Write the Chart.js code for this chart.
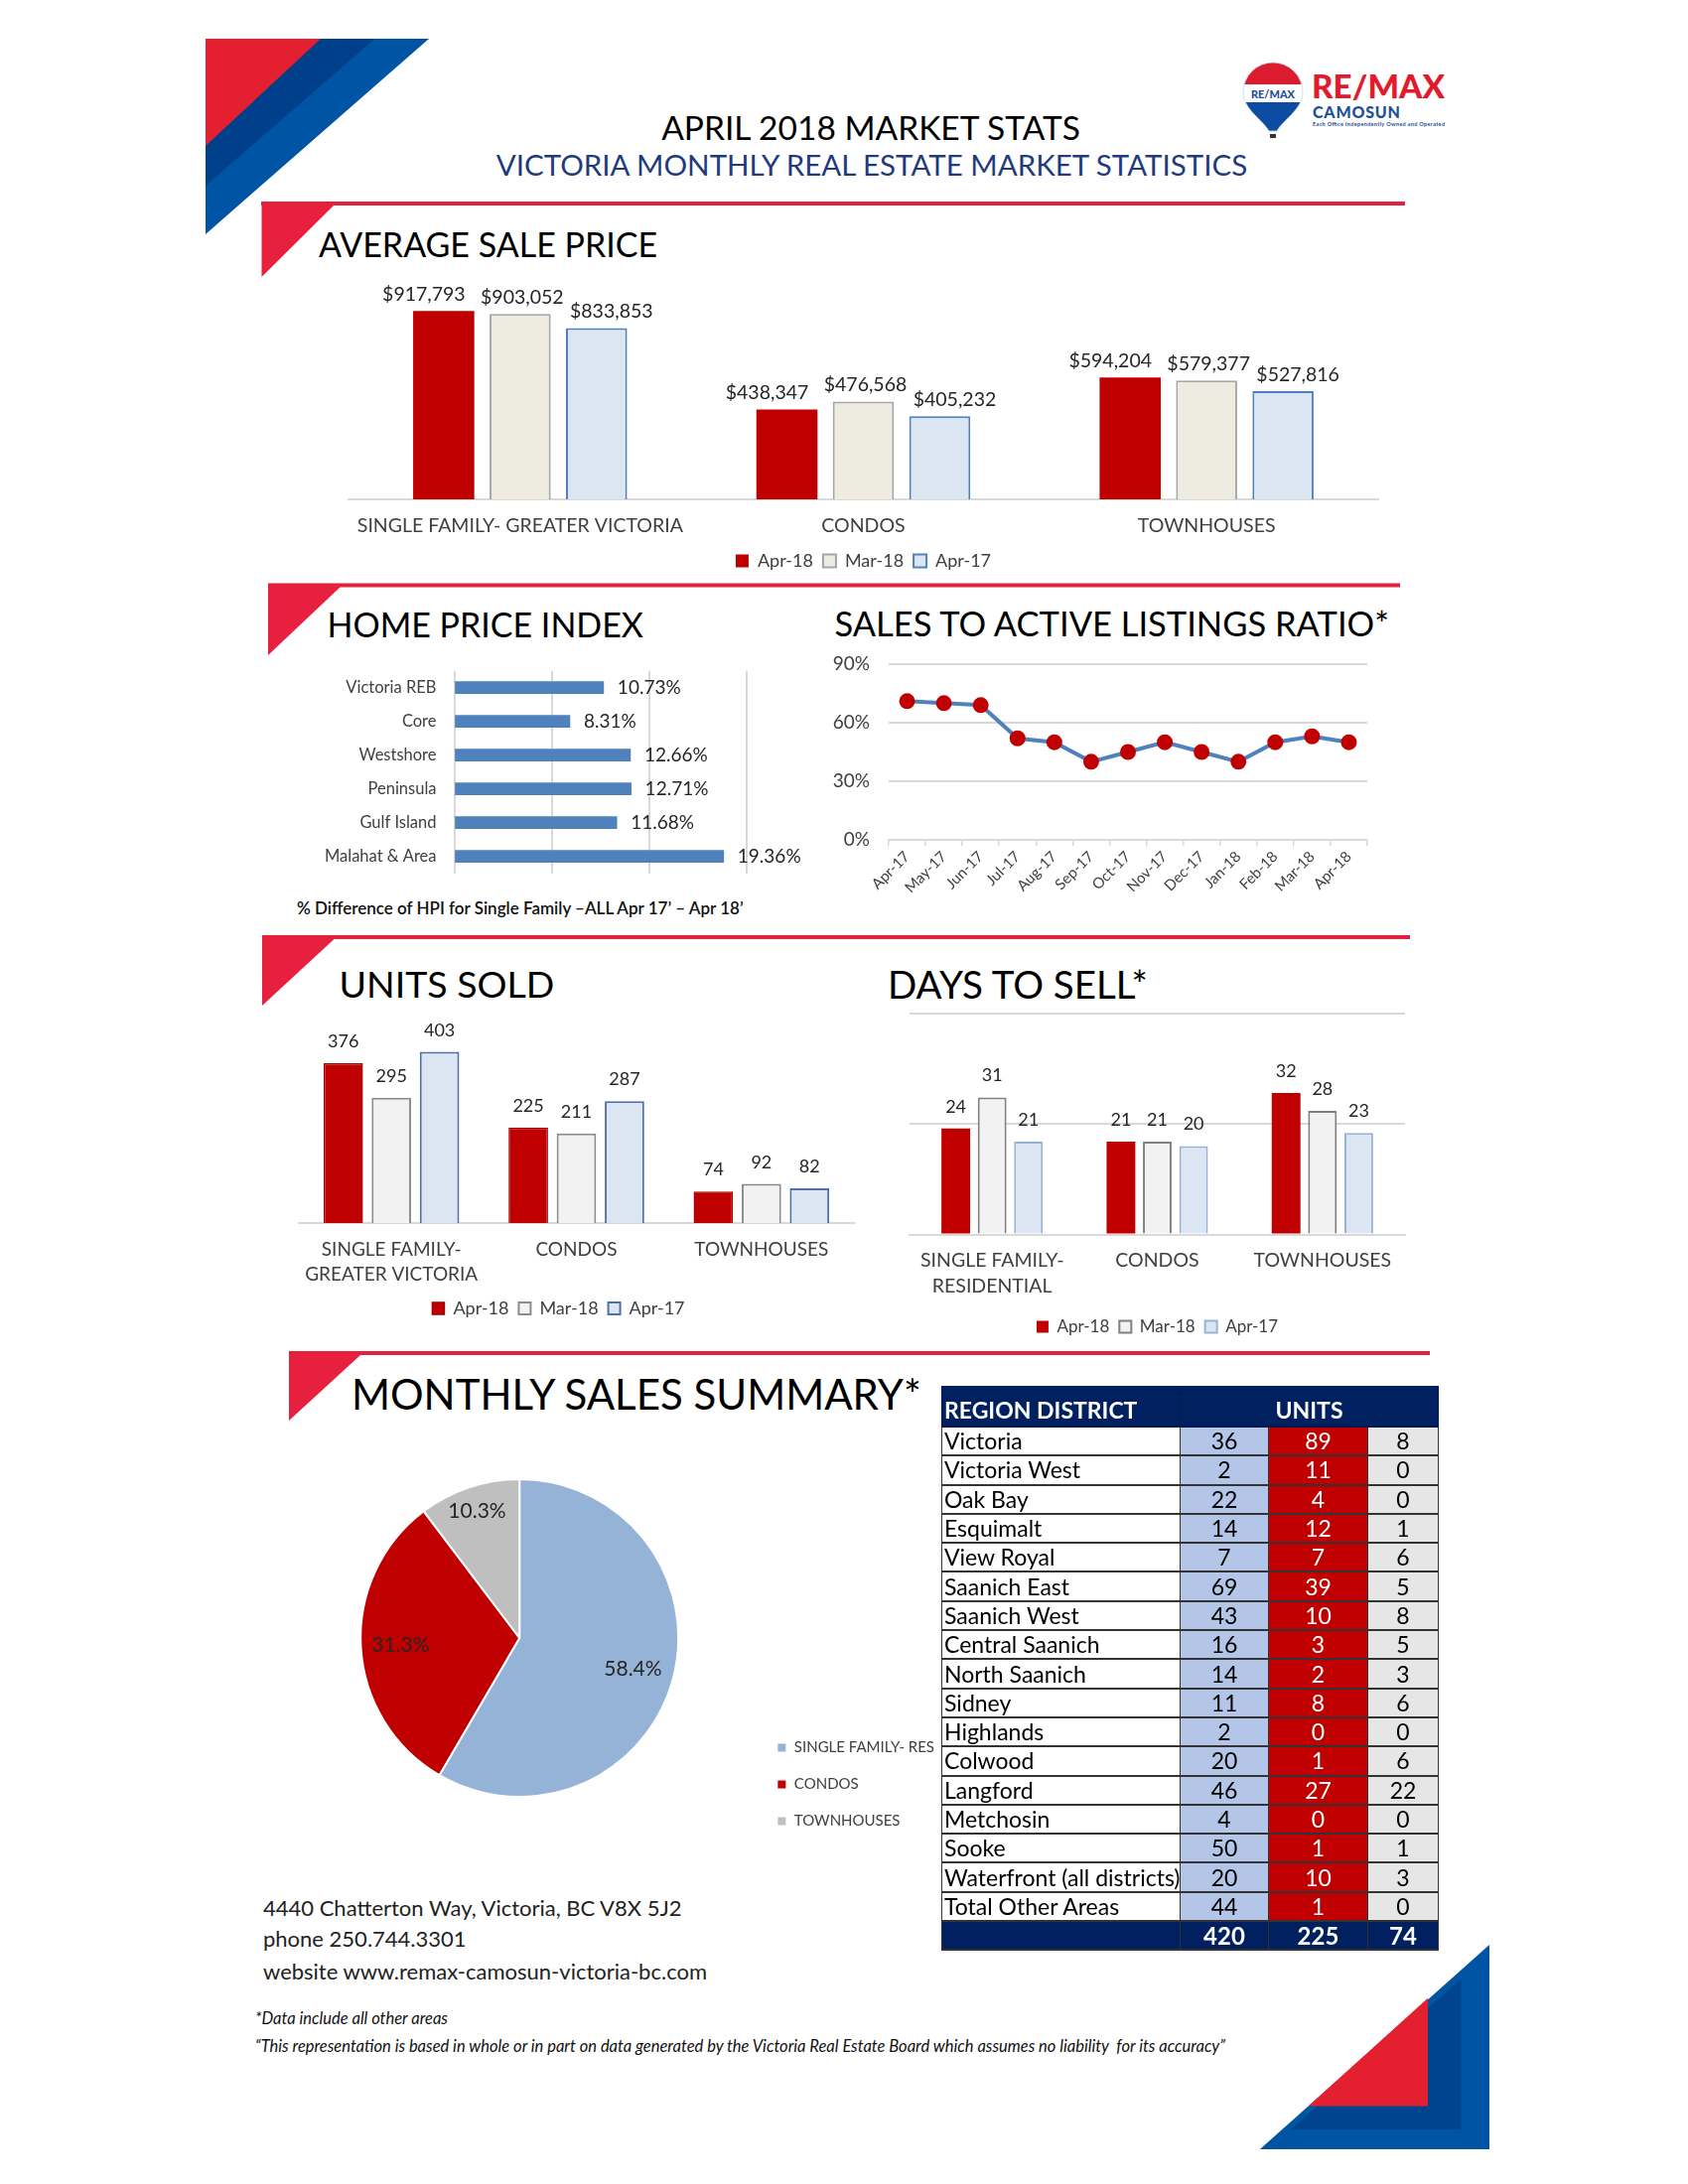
<!DOCTYPE html>
<html>
<head>
<meta charset="utf-8">
<script src="https://cdn.jsdelivr.net/npm/chart.js@4.4.0/dist/chart.umd.min.js"></script>
<style>
  body { margin: 0; background: #fff; }
  #page { position: relative; width: 1700px; height: 2200px; overflow: hidden; font-family: Lato, "Noto Sans", sans-serif; }
  .t { position: absolute; line-height: 1; white-space: nowrap; color: #000; }
  .c { transform: translateX(-50%); }
  canvas { position: absolute; }
  #salesTable { position: absolute; left: 948px; top: 1396px; width: 500px; border-collapse: collapse; table-layout: fixed; font-size: 23px; z-index: 2; }
  #salesTable td, #salesTable th { padding: 0 2px; height: 27.3px; border-bottom: 2px solid #333; border-left: 1px solid #333; border-right: 1px solid #333; line-height: 1; white-space: nowrap; overflow: visible; }
  #salesTable th { background: #002060; color: #fff; font-weight: 700; height: 36px; vertical-align: bottom; padding-bottom: 4px; border-color: #001a4d; }
  #salesTable td.n { text-align: left; background: #fff; }
  #salesTable td.a { text-align: center; background: #B4C6E7; }
  #salesTable td.b { text-align: center; background: #C00000; color: #fff; }
  #salesTable td.g { text-align: center; background: #E7E6E6; }
  #salesTable tr.tot td { background: #002060; color: #fff; font-weight: 700; font-size: 24px; }
</style>
</head>
<body>
<div id="page">
  <svg width="1700" height="2200" style="position:absolute;left:0;top:0">
    <polygon points="207,39 432,39 207,236" fill="#0054A4"/>
    <polygon points="207,39 377.5,39 207,187" fill="#003F8A"/>
    <polygon points="207,39 323,39 207,147" fill="#E31F30"/>

    <rect x="263" y="203" width="1152" height="4" fill="#E3213A"/>
    <polygon points="263.5,207 336,207 263.5,279" fill="#E8203F"/>
    <rect x="270" y="587.5" width="1140" height="4" fill="#E3213A"/>
    <polygon points="270,591 343,591 270,660" fill="#E8203F"/>
    <rect x="264" y="942" width="1156" height="4" fill="#E3213A"/>
    <polygon points="264,946 336.5,946 264,1013" fill="#E8203F"/>
    <rect x="291" y="1361" width="1149" height="4" fill="#E3213A"/>
    <polygon points="291,1365 363,1365 291,1431" fill="#E8203F"/>

    <polygon points="1500,1959 1269,2165 1500,2165" fill="#0054A4"/>
    <polygon points="1471.4,1993.4 1299.7,2145.3 1471.4,2145.3" fill="#00448E"/>
    <polygon points="1438,2012.8 1317.8,2121.4 1438,2121.4" fill="#E31F30"/>

    <defs>
      <clipPath id="balloon">
        <path d="M1252,93 A30,30 0 0 1 1312,93 C1312,110 1292,121 1286,132 L1278,132 C1272,121 1252,110 1252,93 Z"/>
      </clipPath>
    </defs>
    <g clip-path="url(#balloon)">
      <rect x="1250" y="60" width="64" height="25" fill="#DC1C2E"/>
      <rect x="1250" y="85" width="64" height="18" fill="#ffffff"/>
      <rect x="1250" y="103" width="64" height="34" fill="#0C4DA2"/>
    </g>
    <path d="M1252,93 A30,30 0 0 1 1312,93 C1312,110 1292,121 1286,132 L1278,132 C1272,121 1252,110 1252,93 Z" fill="none" stroke="#c9d3e6" stroke-width="0.8"/>
    <text x="1282" y="99" text-anchor="middle" font-family="Lato" font-weight="900" font-size="12" fill="#1F4E9C" textLength="44" lengthAdjust="spacingAndGlyphs">RE/MAX</text>
    <rect x="1279" y="135" width="6" height="4" fill="#333"/>
    <text x="1321" y="98.5" font-family="Lato" font-weight="900" font-size="32" fill="#E11B2C" textLength="134" lengthAdjust="spacingAndGlyphs">RE/MAX</text>
    <text x="1322" y="118.5" font-family="Lato" font-weight="900" font-size="16" fill="#1B4F9C" textLength="88">CAMOSUN</text>
    <text x="1322" y="127" font-family="Lato" font-weight="700" font-size="5.5" fill="#1B4F9C" textLength="133">Each Office Independently Owned and Operated</text>
  </svg>

  <div class="t c" style="left:877px;top:112.2px;font-size:33.5px;">APRIL 2018 MARKET STATS</div>
  <div class="t c" style="left:878px;top:151.1px;font-size:29.5px;color:#1F3B7D;">VICTORIA MONTHLY REAL ESTATE MARKET STATISTICS</div>

  <div class="t" style="left:321px;top:228.5px;font-size:34px;">AVERAGE SALE PRICE</div>
  <div class="t" style="left:329.5px;top:611.9px;font-size:34px;">HOME PRICE INDEX</div>
  <div class="t" style="left:840.5px;top:611.2px;font-size:34.5px;">SALES TO ACTIVE LISTINGS RATIO*</div>
  <div class="t" style="left:341.5px;top:971.8px;font-size:37.5px;">UNITS SOLD</div>
  <div class="t" style="left:894px;top:972.4px;font-size:38.5px;">DAYS TO SELL*</div>
  <div class="t" style="left:354px;top:1383px;font-size:42px;">MONTHLY SALES SUMMARY*</div>

  <div class="t" style="left:299px;top:906px;font-size:17px;font-weight:600;color:#111;">% Difference of HPI for Single Family –ALL Apr 17’ – Apr 18’</div>

  <canvas id="priceChart" width="1080" height="334" style="left:330px;top:250px;"></canvas>
  <canvas id="hpiChart" width="560" height="240" style="left:270px;top:660px;"></canvas>
  <canvas id="ratioChart" width="580" height="290" style="left:820px;top:640px;"></canvas>
  <canvas id="unitsChart" width="600" height="337" style="left:280px;top:1000px;"></canvas>
  <canvas id="daysChart" width="520" height="355" style="left:900px;top:1000px;"></canvas>
  <canvas id="pieChart" width="680" height="428" style="left:286px;top:1436px;"></canvas>

  <table id="salesTable">
    <colgroup><col style="width:240px"><col style="width:89px"><col style="width:100px"><col style="width:71px"></colgroup>
    <thead><tr><th style="text-align:left;">REGION DISTRICT</th><th colspan="3" style="text-align:center;">UNITS</th></tr></thead>
    <tbody id="tableBody"></tbody>
  </table>

  <div class="t" style="left:265px;top:1911px;font-size:22px;color:#222;">4440 Chatterton Way, Victoria, BC V8X 5J2</div>
  <div class="t" style="left:265px;top:1942px;font-size:22px;color:#222;">phone 250.744.3301</div>
  <div class="t" style="left:265px;top:1975px;font-size:22px;color:#222;">website www.remax-camosun-victoria-bc.com</div>

  <div class="t" style="left:257px;top:2025.3px;font-size:16.5px;font-style:italic;color:#111;">*Data include all other areas</div>
  <div class="t" style="left:257px;top:2053px;font-size:16.5px;font-style:italic;color:#111;">“This representation is based in whole or in part on data generated by the Victoria Real Estate Board which assumes no liability&nbsp; for its accuracy”</div>
</div>

<script>
// ---- data ----
const seriesNames = ['Apr-18', 'Mar-18', 'Apr-17'];

const priceCategories = ['SINGLE FAMILY- GREATER VICTORIA', 'CONDOS', 'TOWNHOUSES'];
const priceApr18 = [917793, 438347, 594204];
const priceMar18 = [903052, 476568, 579377];
const priceApr17 = [833853, 405232, 527816];

const hpiRegions = ['Victoria REB', 'Core', 'Westshore', 'Peninsula', 'Gulf Island', 'Malahat & Area'];
const hpiChange = [10.73, 8.31, 12.66, 12.71, 11.68, 19.36];

const ratioMonths = ['Apr-17', 'May-17', 'Jun-17', 'Jul-17', 'Aug-17', 'Sep-17', 'Oct-17', 'Nov-17', 'Dec-17', 'Jan-18', 'Feb-18', 'Mar-18', 'Apr-18'];
const ratioValues = [71, 70, 69, 52, 50, 40, 45, 50, 45, 40, 50, 53, 50];
const ratioTicks = [0, 30, 60, 90];

const unitsCategories = [['SINGLE FAMILY-', 'GREATER VICTORIA'], 'CONDOS', 'TOWNHOUSES'];
const unitsApr18 = [376, 225, 74];
const unitsMar18 = [295, 211, 92];
const unitsApr17 = [403, 287, 82];

const daysCategories = [['SINGLE FAMILY-', 'RESIDENTIAL'], 'CONDOS', 'TOWNHOUSES'];
const daysApr18 = [24, 21, 32];
const daysMar18 = [31, 21, 28];
const daysApr17 = [21, 20, 23];

const pieLabels = ['SINGLE FAMILY- RES', 'CONDOS', 'TOWNHOUSES'];

const districts = ['Victoria', 'Victoria West', 'Oak Bay', 'Esquimalt', 'View Royal', 'Saanich East', 'Saanich West',
  'Central Saanich', 'North Saanich', 'Sidney', 'Highlands', 'Colwood', 'Langford', 'Metchosin', 'Sooke',
  'Waterfront (all districts)', 'Total Other Areas'];
const districtSingle = [36, 2, 22, 14, 7, 69, 43, 16, 14, 11, 2, 20, 46, 4, 50, 20, 44];
const districtCondo = [89, 11, 4, 12, 7, 39, 10, 3, 2, 8, 0, 1, 27, 0, 1, 10, 1];
const districtTown = [8, 0, 0, 1, 6, 5, 8, 5, 3, 6, 0, 6, 22, 0, 1, 3, 0];

// ---- helpers ----
Chart.defaults.font.family = 'Lato, "Noto Sans", sans-serif';
Chart.defaults.color = '#404040';
Chart.defaults.animation = false;
Chart.defaults.plugins.tooltip.enabled = false;

function sum(arr) {
    return arr.reduce(function(a, b) { return a + b; }, 0);
}

// draws the number above (or beside) every bar; nudge moves each series sideways a bit like the original
function barLabels(format, offset, size, horizontal, nudge) {
    return {
        id: 'barLabels',
        afterDatasetsDraw(chart) {
            const ctx = chart.ctx;
            ctx.save();
            ctx.font = size + 'px ' + Chart.defaults.font.family;
            ctx.fillStyle = '#262626';
            ctx.textBaseline = 'middle';
            chart.data.datasets.forEach(function(ds, i) {
                const dx = nudge ? nudge[i] : 0;
                chart.getDatasetMeta(i).data.forEach(function(bar, j) {
                    const text = format(ds.data[j]);
                    if (horizontal) {
                        ctx.textAlign = 'left';
                        ctx.fillText(text, bar.x + offset, bar.y);
                    } else {
                        ctx.textAlign = 'center';
                        ctx.fillText(text, bar.x + dx, bar.y - offset);
                    }
                });
            });
            ctx.restore();
        }
    };
}

// move a bottom legend sideways without touching the plot area
function shiftLegend(dx) {
    return {
        id: 'shiftLegend',
        afterLayout(chart) {
            chart.legend.left += dx;
            chart.legend.right += dx;
        }
    };
}

function noScalePadding(scale) {
    scale.paddingTop = 0;
    scale.paddingBottom = 0;
}

function money(v) {
    return '$' + v.toLocaleString('en-US');
}

function legendOpts(size, box) {
    return {
        position: 'bottom',
        labels: { font: { size: size }, color: '#404040', boxWidth: box, boxHeight: box, padding: 10 }
    };
}

// ---- average sale price ----
new Chart(document.getElementById('priceChart'), {
    type: 'bar',
    data: {
        labels: priceCategories,
        datasets: [
            { label: seriesNames[0], data: priceApr18, backgroundColor: '#C00000', borderWidth: 0 },
            { label: seriesNames[1], data: priceMar18, backgroundColor: '#EEECE1', borderColor: '#A6A6A6', borderWidth: 2 },
            { label: seriesNames[2], data: priceApr17, backgroundColor: '#DCE6F2', borderColor: '#4F81BD', borderWidth: 2 }
        ]
    },
    options: {
        responsive: false,
        categoryPercentage: 0.668,
        barPercentage: 0.8,
        layout: { padding: { top: 25.6, left: 21, right: 22, bottom: 0 } },
        plugins: { legend: legendOpts(18, 13) },
        scales: {
            x: {
                grid: { display: false },
                border: { color: '#D9D9D9', width: 2 },
                ticks: { font: { size: 19.5 }, color: '#404040', padding: 7 },
                afterFit: function(scale) { scale.height = 43; }
            },
            y: { display: false, min: 0, max: 1100000 }
        }
    },
    plugins: [barLabels(money, 16.6, 19.5, false, [-20, 2, 15])]
});

// ---- home price index ----
new Chart(document.getElementById('hpiChart'), {
    type: 'bar',
    data: {
        labels: hpiRegions,
        datasets: [{ data: hpiChange, backgroundColor: '#4F81BD', barThickness: 12 }]
    },
    options: {
        responsive: false,
        indexAxis: 'y',
        layout: { padding: { top: 15.7, bottom: 20.3, left: 0, right: 78.2 } },
        plugins: { legend: { display: false } },
        scales: {
            x: {
                min: 0, max: 21,
                ticks: { display: false, stepSize: 7 },
                grid: { color: '#D9D9D9', lineWidth: 2, drawTicks: false },
                border: { display: false },
                afterFit: function(scale) { scale.height = 0; }
            },
            y: {
                grid: { display: false, drawTicks: false },
                border: { display: false },
                ticks: { font: { size: 16.5 }, color: '#404040', padding: 18 },
                afterFit: function(scale) { scale.width = 187.5; noScalePadding(scale); }
            }
        }
    },
    plugins: [barLabels(function(v) { return v.toFixed(2) + '%'; }, 14, 19, true)]
});

// ---- sales to active listings ratio ----
new Chart(document.getElementById('ratioChart'), {
    type: 'line',
    data: {
        labels: ratioMonths,
        datasets: [{
            data: ratioValues,
            borderColor: '#4F81BD',
            borderWidth: 4,
            pointBackgroundColor: '#C00000',
            pointBorderColor: '#C00000',
            pointRadius: 6,
            tension: 0
        }]
    },
    options: {
        responsive: false,
        layout: { padding: { top: 29, right: 23, left: 0, bottom: 0 } },
        plugins: { legend: { display: false } },
        scales: {
            x: {
                offset: true,
                grid: { offset: true, drawOnChartArea: false, color: '#D9D9D9', lineWidth: 1.5, tickLength: 6 },
                border: { color: '#D9D9D9', width: 2 },
                ticks: { minRotation: 45, maxRotation: 45, autoSkip: false, font: { size: 15 }, color: '#404040', padding: 2, labelOffset: 0 },
                afterFit: function(scale) { scale.height = 84; }
            },
            y: {
                min: ratioTicks[0], max: ratioTicks[ratioTicks.length - 1],
                afterBuildTicks: function(scale) { scale.ticks = ratioTicks.map(function(v) { return { value: v }; }); },
                ticks: { callback: function(v) { return v + '%'; }, font: { size: 19 }, color: '#404040', padding: 19 },
                grid: { color: '#D9D9D9', lineWidth: 2, drawTicks: false },
                border: { display: false },
                afterFit: function(scale) { scale.width = 75; noScalePadding(scale); }
            }
        }
    }
});

// ---- units sold ----
new Chart(document.getElementById('unitsChart'), {
    type: 'bar',
    data: {
        labels: unitsCategories,
        datasets: [
            { label: seriesNames[0], data: unitsApr18, backgroundColor: '#C00000', borderColor: '#A00000', borderWidth: 1.5 },
            { label: seriesNames[1], data: unitsMar18, backgroundColor: '#F2F2F2', borderColor: '#8C8C8C', borderWidth: 2 },
            { label: seriesNames[2], data: unitsApr17, backgroundColor: '#DCE6F2', borderColor: '#4F6FA8', borderWidth: 2 }
        ]
    },
    options: {
        responsive: false,
        categoryPercentage: 0.78,
        barPercentage: 0.82,
        layout: { padding: { top: 18, left: 21, right: 20, bottom: 0 } },
        plugins: { legend: legendOpts(18, 12) },
        scales: {
            x: {
                grid: { display: false },
                border: { color: '#D9D9D9', width: 2 },
                ticks: { font: { size: 19, lineHeight: 1.3 }, color: '#404040', padding: 6.6 },
                afterFit: function(scale) { scale.height = 67; }
            },
            y: { display: false, min: 0, max: 500 }
        }
    },
    plugins: [barLabels(String, 21.7, 18, false), shiftLegend(-18)]
});

// ---- days to sell ----
new Chart(document.getElementById('daysChart'), {
    type: 'bar',
    data: {
        labels: daysCategories,
        datasets: [
            { label: seriesNames[0], data: daysApr18, backgroundColor: '#C00000', borderWidth: 0 },
            { label: seriesNames[1], data: daysMar18, backgroundColor: '#F2F2F2', borderColor: '#808080', borderWidth: 2 },
            { label: seriesNames[2], data: daysApr17, backgroundColor: '#DCE6F2', borderColor: '#95B3D7', borderWidth: 2 }
        ]
    },
    options: {
        responsive: false,
        categoryPercentage: 0.66,
        barPercentage: 0.79,
        layout: { padding: { top: 21, left: 16, right: 5, bottom: 0 } },
        plugins: { legend: legendOpts(17, 12) },
        scales: {
            x: {
                grid: { display: false },
                border: { color: '#D9D9D9', width: 2 },
                ticks: { font: { size: 19.5, lineHeight: 1.3 }, color: '#404040', padding: 5.8 },
                afterFit: function(scale) { scale.height = 74.5; }
            },
            y: {
                min: 0, max: 50,
                ticks: { display: false, stepSize: 25 },
                grid: { color: '#D9D9D9', lineWidth: 2, drawTicks: false },
                border: { display: false },
                afterFit: function(scale) { scale.width = 0; }
            }
        }
    },
    plugins: [barLabels(String, 22, 18, false)]
});

// ---- monthly sales summary: pie + table ----
const pieValues = [sum(districtSingle), sum(districtCondo), sum(districtTown)];
const pieTotal = sum(pieValues);
const pieLabelRadius = [0.74, 0.75, 0.84];

const pieText = {
    id: 'pieText',
    afterDatasetsDraw(chart) {
        const ctx = chart.ctx;
        ctx.save();
        ctx.font = '21px ' + Chart.defaults.font.family;
        ctx.fillStyle = '#262626';
        ctx.textAlign = 'center';
        ctx.textBaseline = 'middle';
        chart.getDatasetMeta(0).data.forEach(function(arc, j) {
            const mid = (arc.startAngle + arc.endAngle) / 2;
            const r = arc.outerRadius * pieLabelRadius[j];
            const pct = (pieValues[j] / pieTotal * 100).toFixed(1) + '%';
            ctx.fillText(pct, arc.x + Math.cos(mid) * r, arc.y + Math.sin(mid) * r);
        });
        ctx.restore();
    }
};

// size the pie canvas so the chart area is centred on the pie and the legend sits where it should
const pieCanvas = document.getElementById('pieChart');
const measure = document.createElement('canvas').getContext('2d');
measure.font = '15px ' + Chart.defaults.font.family;
const widest = Math.max.apply(null, pieLabels.map(function(l) { return measure.measureText(l).width; }));
pieCanvas.width = Math.round(760.6 - 286 + 22 + 10 + 7.5 + widest + 10);

new Chart(pieCanvas, {
    type: 'pie',
    data: {
        labels: pieLabels,
        datasets: [{
            data: pieValues,
            backgroundColor: ['#95B3D7', '#C00000', '#BFBFBF'],
            borderColor: '#ffffff',
            borderWidth: 2,
            radius: 160
        }]
    },
    options: {
        responsive: false,
        plugins: {
            legend: {
                position: 'right',
                align: 'end',
                labels: { font: { size: 15 }, color: '#404040', boxWidth: 10, boxHeight: 10, padding: 22 }
            }
        }
    },
    plugins: [pieText]
});

const body = document.getElementById('tableBody');
districts.forEach(function(name, i) {
    const tr = document.createElement('tr');
    tr.innerHTML = '<td class="n">' + name + '</td><td class="a">' + districtSingle[i] +
        '</td><td class="b">' + districtCondo[i] + '</td><td class="g">' + districtTown[i] + '</td>';
    body.appendChild(tr);
});
const totalRow = document.createElement('tr');
totalRow.className = 'tot';
totalRow.innerHTML = '<td></td><td style="text-align:center">' + pieValues[0] + '</td><td style="text-align:center">' +
    pieValues[1] + '</td><td style="text-align:center">' + pieValues[2] + '</td>';
body.appendChild(totalRow);
</script>
</body>
</html>
